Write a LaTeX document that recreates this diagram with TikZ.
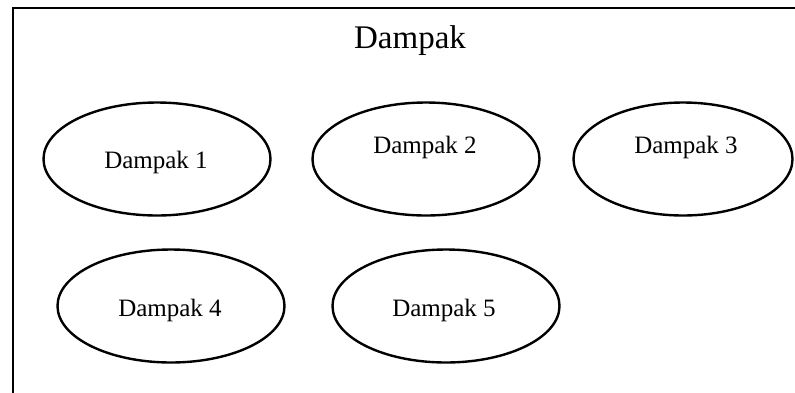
\documentclass[tikz,border=0pt]{standalone}
\usepackage{fontspec}
\setmainfont{Liberation Serif}
\usetikzlibrary{shapes.geometric}

\begin{document}
\begin{tikzpicture}[x=1pt,y=-1pt,
  frame/.style={draw=black,line width=2pt},
  impact/.style={ellipse,draw=black,line width=2.4pt,inner sep=0pt,
                 minimum width=227pt,minimum height=113pt},
  lbl/.style={anchor=base,inner sep=0pt,font=\fontsize{25}{30}\selectfont},
  heading/.style={anchor=base,inner sep=0pt,font=\fontsize{33}{40}\selectfont}]

  % canvas
  \useasboundingbox (0,0) rectangle (795,392);
  \clip (0,0) rectangle (795,392);

  % outer frame (runs past the right and bottom edges)
  \draw[frame] (13,8) rectangle (830,430);

  \node[heading] (title) at (410,48) {Dampak};

  % impact ellipses
  \node[impact] (e1) at (157,159) {};
  \node[impact] (e2) at (426,159) {};
  \node[impact,minimum width=219pt] (e3) at (683,159) {};
  \node[impact] (e4) at (171,306) {};
  \node[impact] (e5) at (446,306) {};

  % their labels
  \node[lbl] (t1) at (156,168) {Dampak 1};
  \node[lbl] (t2) at (425,153) {Dampak 2};
  \node[lbl] (t3) at (686,153) {Dampak 3};
  \node[lbl] (t4) at (170,316) {Dampak 4};
  \node[lbl] (t5) at (444,316) {Dampak 5};
\end{tikzpicture}
\end{document}
